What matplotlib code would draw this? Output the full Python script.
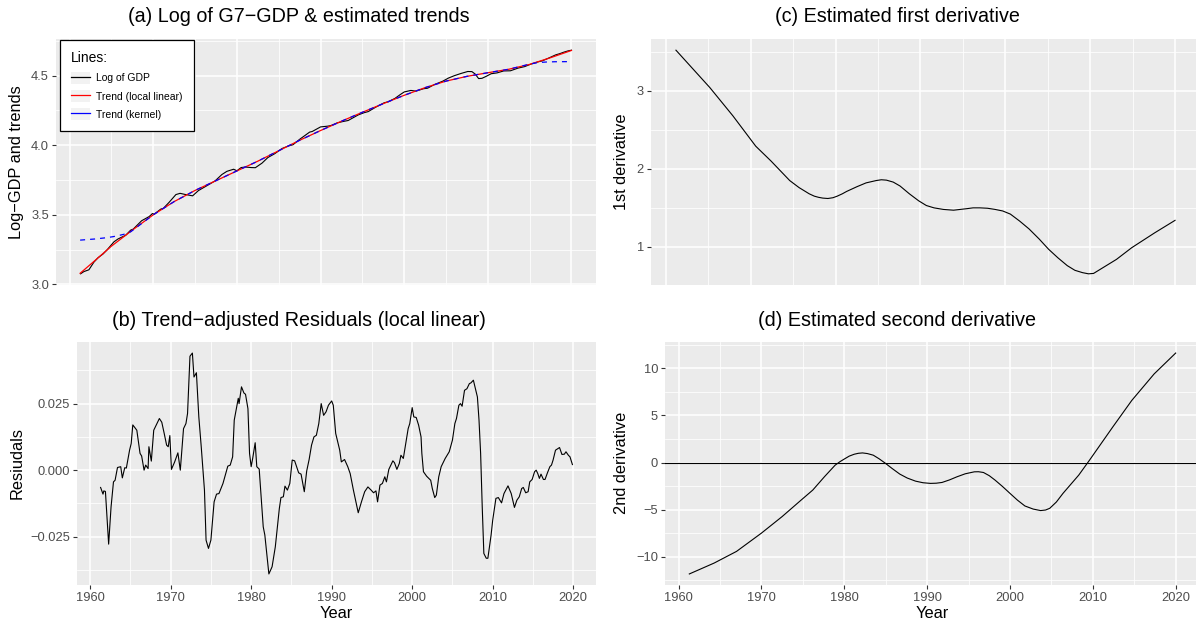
# -*- coding: utf-8 -*-
"""
G7 GDP trend panels: log series, residuals and derivatives
"""

import numpy as np
import matplotlib
matplotlib.use('Agg')
import matplotlib.pyplot as plt
from matplotlib.lines import Line2D
from matplotlib.patches import Patch

plt.rcParams['font.family'] = ['Liberation Sans', 'DejaVu Sans']

# ---- data ----
gdp_years = [1961.3, 1961.7, 1962.3, 1962.9, 1963.4, 1964.0, 1964.5, 1965.3, 1965.8, 1966.7,
             1967.3, 1967.6, 1968.6, 1969.5, 1969.9, 1970.1, 1970.9, 1971.2, 1971.9, 1972.7,
             1973.2, 1973.8, 1974.7, 1975.4, 1976.5, 1977.4, 1978.2, 1978.8, 1979.6, 1980.0,
             1980.5, 1981.0, 1981.7, 1982.2, 1983.0, 1983.7, 1984.5, 1985.4, 1986.2, 1986.7,
             1987.5, 1988.7, 1989.0, 1990.0, 1990.8, 1991.2, 1992.0, 1992.7, 1993.3, 1994.5,
             1995.2, 1995.7, 1996.6, 1997.6, 1998.1, 1998.9, 1999.5, 2000.0, 2000.8, 2001.4,
             2002.3, 2002.8, 2003.6, 2004.6, 2005.3, 2006.0, 2006.8, 2007.6, 2008.1, 2008.5,
             2008.9, 2009.3, 2009.8, 2010.4, 2011.1, 2011.9, 2012.7, 2013.6, 2014.4, 2015.2,
             2016.0, 2016.5, 2017.3, 2018.1, 2018.6, 2019.1, 2019.6, 2020.0]
gdp_log = [3.076, 3.092, 3.105, 3.160, 3.192, 3.219, 3.250, 3.306, 3.327, 3.353,
           3.390, 3.397, 3.457, 3.487, 3.509, 3.504, 3.541, 3.546, 3.590, 3.645,
           3.654, 3.646, 3.636, 3.674, 3.712, 3.744, 3.789, 3.812, 3.827, 3.816,
           3.839, 3.843, 3.839, 3.838, 3.871, 3.911, 3.938, 3.976, 3.995, 4.003,
           4.042, 4.094, 4.098, 4.131, 4.136, 4.140, 4.160, 4.170, 4.177, 4.217,
           4.233, 4.241, 4.273, 4.304, 4.312, 4.336, 4.362, 4.382, 4.393, 4.388,
           4.405, 4.409, 4.435, 4.459, 4.482, 4.499, 4.515, 4.529, 4.528, 4.510,
           4.478, 4.480, 4.494, 4.513, 4.519, 4.533, 4.534, 4.553, 4.564, 4.583,
           4.598, 4.605, 4.626, 4.648, 4.657, 4.668, 4.677, 4.682]

trend_years = [1961.25, 1963, 1965, 1967.5, 1970, 1972.5, 1975, 1977.5, 1980, 1982.5,
               1985, 1987.5, 1990, 1992.5, 1995, 1997.5, 2000, 2002.5, 2005, 2007.5,
               2010, 2012.5, 2015, 2017.5, 2020]
trend_ll = [3.080, 3.170, 3.275, 3.390, 3.500, 3.595, 3.675, 3.745, 3.815, 3.885,
            3.960, 4.035, 4.105, 4.172, 4.236, 4.298, 4.358, 4.413, 4.460, 4.494,
            4.520, 4.545, 4.580, 4.628, 4.680]

kern_years = [1961.25, 1963, 1964.5, 1965.5, 1966.5, 1967.3, 1970, 1972.5, 1975, 1977.5,
              1980, 1982.5, 1985, 1987.5, 1990, 1992.5, 1995, 1997.5, 2000, 2002.5,
              2005, 2007.5, 2010, 2012.5, 2015, 2016, 2017, 2018, 2020]
trend_kern = [3.318, 3.326, 3.336, 3.346, 3.360, 3.378, 3.500, 3.595, 3.675, 3.745,
              3.815, 3.885, 3.960, 4.035, 4.105, 4.172, 4.236, 4.298, 4.358, 4.413,
              4.460, 4.494, 4.520, 4.545, 4.582, 4.593, 4.597, 4.599, 4.600]

res_years = [1961.3, 1961.6, 1961.7, 1961.9, 1962.3, 1962.6, 1962.9, 1963.1, 1963.4, 1963.8,
             1964.0, 1964.3, 1964.5, 1964.9, 1965.1, 1965.3, 1965.8, 1966.2, 1966.4, 1966.7,
             1966.9, 1967.2, 1967.3, 1967.6, 1967.9, 1968.2, 1968.6, 1968.9, 1969.2, 1969.5,
             1969.7, 1969.9, 1970.1, 1970.5, 1970.9, 1971.2, 1971.6, 1971.9, 1972.1, 1972.4,
             1972.7, 1972.9, 1973.2, 1973.5, 1973.8, 1974.2, 1974.4, 1974.7, 1975.0, 1975.4,
             1975.7, 1976.0, 1976.5, 1976.9, 1977.1, 1977.4, 1977.7, 1977.9, 1978.2, 1978.4,
             1978.5, 1978.8, 1979.1, 1979.3, 1979.6, 1979.8, 1980.0, 1980.2, 1980.5, 1980.7,
             1981.0, 1981.5, 1981.7, 1982.2, 1982.6, 1983.0, 1983.5, 1983.7, 1984.0, 1984.2,
             1984.5, 1984.8, 1985.1, 1985.4, 1985.9, 1986.2, 1986.6, 1986.9, 1987.2, 1987.5,
             1987.8, 1988.1, 1988.4, 1988.7, 1989.0, 1989.3, 1989.6, 1990.0, 1990.2, 1990.5,
             1990.8, 1991.0, 1991.2, 1991.6, 1992.0, 1992.3, 1992.7, 1993.3, 1993.7, 1994.1,
             1994.5, 1994.9, 1995.2, 1995.5, 1995.7, 1996.0, 1996.3, 1996.6, 1996.8, 1997.1,
             1997.6, 1997.8, 1998.1, 1998.4, 1998.6, 1998.9, 1999.2, 1999.5, 1999.7, 2000.0,
             2000.2, 2000.5, 2000.8, 2001.1, 2001.2, 2001.4, 2001.8, 2002.3, 2002.5, 2002.8,
             2003.0, 2003.3, 2003.6, 2004.1, 2004.6, 2005.0, 2005.3, 2005.5, 2005.8, 2006.0,
             2006.2, 2006.5, 2006.8, 2007.1, 2007.3, 2007.6, 2007.8, 2008.1, 2008.3, 2008.5,
             2008.7, 2008.9, 2009.2, 2009.4, 2009.6, 2009.8, 2010.0, 2010.4, 2010.7, 2011.1,
             2011.4, 2011.9, 2012.3, 2012.7, 2013.0, 2013.3, 2013.6, 2013.8, 2014.1, 2014.4,
             2014.6, 2014.9, 2015.2, 2015.4, 2015.6, 2015.8, 2016.0, 2016.3, 2016.5, 2016.8,
             2017.1, 2017.3, 2017.5, 2017.8, 2018.1, 2018.3, 2018.6, 2018.9, 2019.1, 2019.4,
             2019.6, 2019.9]
residuals = [-0.0065, -0.0090, -0.0078, -0.0080, -0.0278, -0.0138, -0.0044, -0.0038, 0.0010, 0.0013,
             -0.0029, 0.0009, 0.0008, 0.0075, 0.0100, 0.0170, 0.0150, 0.0063, 0.0053, 0.0000,
             0.0019, 0.0006, 0.0088, 0.0034, 0.0150, 0.0169, 0.0194, 0.0180, 0.0138, 0.0094,
             0.0088, 0.0130, 0.0003, 0.0031, 0.0065, 0.0000, 0.0156, 0.0175, 0.0213, 0.0428,
             0.0440, 0.0350, 0.0366, 0.0200, 0.0088, -0.0075, -0.0263, -0.0294, -0.0263, -0.0119,
             -0.0090, -0.0088, -0.0050, -0.0006, 0.0015, 0.0019, 0.0050, 0.0188, 0.0238, 0.0270,
             0.0250, 0.0313, 0.0290, 0.0285, 0.0231, 0.0063, 0.0013, 0.0046, 0.0103, 0.0013,
             0.0004, -0.0213, -0.0244, -0.0390, -0.0363, -0.0288, -0.0144, -0.0103, -0.0100, -0.0060,
             -0.0075, -0.0050, 0.0038, 0.0035, -0.0010, -0.0015, -0.0081, -0.0003, 0.0040, 0.0094,
             0.0125, 0.0131, 0.0175, 0.0250, 0.0206, 0.0219, 0.0244, 0.0260, 0.0244, 0.0138,
             0.0100, 0.0075, 0.0031, 0.0040, 0.0013, -0.0013, -0.0075, -0.0160, -0.0119, -0.0081,
             -0.0063, -0.0075, -0.0085, -0.0078, -0.0119, -0.0056, -0.0050, -0.0025, -0.0044, 0.0003,
             0.0035, 0.0028, 0.0003, 0.0025, 0.0056, 0.0044, 0.0100, 0.0156, 0.0175, 0.0235,
             0.0200, 0.0198, 0.0169, 0.0125, 0.0063, -0.0006, -0.0023, -0.0038, -0.0069, -0.0103,
             -0.0094, -0.0025, 0.0013, 0.0044, 0.0069, 0.0113, 0.0175, 0.0194, 0.0244, 0.0250,
             0.0240, 0.0300, 0.0306, 0.0325, 0.0328, 0.0338, 0.0313, 0.0275, 0.0188, 0.0063,
             -0.0138, -0.0313, -0.0331, -0.0331, -0.0288, -0.0244, -0.0188, -0.0106, -0.0103, -0.0123,
             -0.0088, -0.0059, -0.0088, -0.0140, -0.0113, -0.0100, -0.0069, -0.0065, -0.0085, -0.0081,
             -0.0044, -0.0035, -0.0006, 0.0000, -0.0013, -0.0031, -0.0015, -0.0035, -0.0035, -0.0010,
             0.0013, 0.0019, 0.0038, 0.0075, 0.0081, 0.0085, 0.0059, 0.0060, 0.0069, 0.0056,
             0.0050, 0.0021]

d1_years = [1961.2, 1965.2, 1967.9, 1970.6, 1972.4, 1974.6, 1975.7, 1976.9, 1977.5, 1978.0,
            1978.5, 1979.1, 1979.7, 1980.2, 1980.8, 1981.3, 1982.5, 1983.6, 1984.8, 1985.4,
            1986.0, 1986.8, 1987.6, 1988.7, 1989.8, 1990.7, 1991.6, 1992.7, 1993.9, 1995.5,
            1996.2, 1997.0, 1997.9, 1998.8, 1999.7, 2000.6, 2001.7, 2002.8, 2004.0, 2005.1,
            2006.2, 2007.3, 2008.2, 2009.1, 2009.8, 2010.4, 2013.1, 2014.9, 2017.6, 2020.0]
d1_vals = [3.52, 3.04, 2.68, 2.29, 2.10, 1.85, 1.76, 1.68, 1.65, 1.635,
           1.625, 1.62, 1.63, 1.65, 1.68, 1.71, 1.77, 1.82, 1.85, 1.86,
           1.855, 1.83, 1.78, 1.68, 1.59, 1.53, 1.50, 1.48, 1.47, 1.49,
           1.50, 1.50, 1.495, 1.48, 1.46, 1.42, 1.33, 1.23, 1.10, 0.97,
           0.86, 0.76, 0.70, 0.67, 0.655, 0.66, 0.84, 0.99, 1.18, 1.34]

d2_years = [1961.3, 1964.3, 1967.0, 1970.0, 1972.5, 1974.8, 1976.2, 1977.6, 1978.9, 1979.5,
            1980.1, 1980.6, 1981.2, 1981.7, 1982.2, 1982.8, 1983.5, 1984.2, 1984.9, 1985.8,
            1986.7, 1987.6, 1988.6, 1989.5, 1990.4, 1991.1, 1991.8, 1992.7, 1993.6, 1994.6,
            1995.7, 1996.2, 1996.8, 1997.5, 1998.2, 1999.1, 2000.0, 2000.9, 2001.8, 2002.8,
            2003.7, 2004.3, 2004.8, 2005.6, 2006.4, 2008.3, 2009.6, 2012.4, 2014.7, 2017.4,
            2020.0]
d2_vals = [-11.85, -10.69, -9.45, -7.51, -5.75, -3.99, -2.93, -1.52, -0.28, 0.10,
           0.42, 0.68, 0.88, 0.98, 1.02, 0.95, 0.78, 0.40, -0.04, -0.65,
           -1.23, -1.65, -1.98, -2.15, -2.22, -2.20, -2.12, -1.85, -1.52, -1.20,
           -0.99, -0.98, -1.06, -1.40, -1.87, -2.55, -3.28, -4.00, -4.62, -4.95,
           -5.11, -5.05, -4.87, -4.20, -3.28, -1.34, 0.25, 3.77, 6.60, 9.42,
           11.64]

year_ticks = [1960, 1970, 1980, 1990, 2000, 2010, 2020]
year_minor = [1965, 1975, 1985, 1995, 2005, 2015]

W, H = 1196, 624
BG = '#EBEBEB'
TICK_COL = '#4D4D4D'


def px_rect(left, top, right, bottom):
    return [left / W, 1 - bottom / H, (right - left) / W, (bottom - top) / H]


def expand(lo, hi, frac=0.05):
    pad = (hi - lo) * frac
    return lo - pad, hi + pad


def style_axes(ax, xdata, ydata, yticks, ylabels, yminor, show_x):
    ax.set_facecolor(BG)
    for s in ax.spines.values():
        s.set_visible(False)
    ax.set_xticks(year_ticks)
    ax.set_xticks(year_minor, minor=True)
    ax.set_yticks(yticks)
    ax.set_yticklabels(ylabels)
    ax.set_yticks(yminor, minor=True)
    ax.set_xlim(*expand(min(xdata), max(xdata)))
    ax.set_ylim(*expand(min(ydata), max(ydata)))
    ax.grid(which='major', color='white', lw=1.1)
    ax.grid(which='minor', color='white', lw=0.55)
    ax.set_axisbelow(True)
    ax.tick_params(which='minor', length=0)
    ax.tick_params(which='major', length=3, width=0.8, color='#333333',
                   labelcolor=TICK_COL, labelsize=9.3, pad=2)
    if not show_x:
        ax.tick_params(axis='x', which='both', length=0, labelbottom=False)


def main():
    fig = plt.figure(figsize=(W / 100, H / 100), dpi=100)

    # (a) log GDP with trends
    ax_a = fig.add_axes(px_rect(56, 39, 596, 285))
    ax_a.plot(gdp_years, gdp_log, color='black', lw=0.8)
    ax_a.plot(trend_years, trend_ll, color='red', lw=0.9)
    ax_a.plot(kern_years, trend_kern, color='blue', lw=0.9, linestyle=(0, (4, 4)))
    style_axes(ax_a, gdp_years, gdp_log + trend_kern, [3.0, 3.5, 4.0, 4.5],
               ['3.0', '3.5', '4.0', '4.5'], [3.25, 3.75, 4.25, 4.75], False)
    key_bg = dict(facecolor='#F2F2F2', edgecolor='none')
    handles = [(Patch(**key_bg), Line2D([], [], color='black', lw=0.9)),
               (Patch(**key_bg), Line2D([], [], color='red', lw=0.9)),
               (Patch(**key_bg), Line2D([], [], color='blue', lw=0.9))]
    leg = ax_a.legend(handles, ['Log of GDP', 'Trend (local linear)', 'Trend (kernel)'],
                      title='Lines:', loc='upper left', bbox_to_anchor=(0.007, 0.996),
                      borderaxespad=0, fontsize=7.5, title_fontsize=10, frameon=True,
                      fancybox=False, edgecolor='black', facecolor='white', framealpha=1,
                      handlelength=1.8, handleheight=1.3, handletextpad=0.55,
                      labelspacing=0.65, borderpad=1.1, alignment='left')
    leg.get_frame().set_linewidth(0.9)

    # (b) residuals
    ax_b = fig.add_axes(px_rect(77, 342, 596, 585))
    ax_b.plot(res_years, residuals, color='black', lw=0.8)
    style_axes(ax_b, res_years, residuals, [-0.025, 0.0, 0.025],
               ['\u22120.025', '0.000', '0.025'], [-0.0375, -0.0125, 0.0125, 0.0375], True)

    # (c) first derivative
    ax_c = fig.add_axes(px_rect(651, 39, 1200, 285))
    ax_c.plot(d1_years, d1_vals, color='black', lw=0.8)
    style_axes(ax_c, d1_years, d1_vals, [1, 2, 3], ['1', '2', '3'],
               [0.5, 1.5, 2.5, 3.5], False)

    # (d) second derivative
    ax_d = fig.add_axes(px_rect(665, 342, 1200, 585))
    ax_d.axhline(0, color='black', lw=0.8)
    ax_d.plot(d2_years, d2_vals, color='black', lw=0.8)
    style_axes(ax_d, d2_years, d2_vals, [-10, -5, 0, 5, 10],
               ['\u221210', '\u22125', '0', '5', '10'],
               [-12.5, -7.5, -2.5, 2.5, 7.5, 12.5], True)

    # titles and axis labels
    tsize = 14.2
    fig.text(299 / W, 1 - 16 / H, '(a) Log of G7\u2212GDP & estimated trends',
             ha='center', va='center', fontsize=tsize)
    fig.text(299 / W, 1 - 320 / H, '(b) Trend\u2212adjusted Residuals (local linear)',
             ha='center', va='center', fontsize=tsize)
    fig.text(897 / W, 1 - 16 / H, '(c) Estimated first derivative',
             ha='center', va='center', fontsize=tsize)
    fig.text(897 / W, 1 - 320 / H, '(d) Estimated second derivative',
             ha='center', va='center', fontsize=tsize)

    lsize = 11.8
    fig.text(17 / W, 1 - 162 / H, 'Log\u2212GDP and trends', rotation=90,
             ha='center', va='center', fontsize=lsize)
    fig.text(17 / W, 1 - 463 / H, 'Resiudals', rotation=90,
             ha='center', va='center', fontsize=lsize)
    fig.text(621 / W, 1 - 162 / H, '1st derivative', rotation=90,
             ha='center', va='center', fontsize=lsize)
    fig.text(621 / W, 1 - 463 / H, '2nd derivative', rotation=90,
             ha='center', va='center', fontsize=lsize)
    fig.text(336 / W, 1 - 614 / H, 'Year', ha='center', va='center', fontsize=lsize)
    fig.text(932 / W, 1 - 614 / H, 'Year', ha='center', va='center', fontsize=lsize)

    fig.savefig('out.png', dpi=100, facecolor='white')
    plt.close(fig)


if __name__ == '__main__':
    main()
